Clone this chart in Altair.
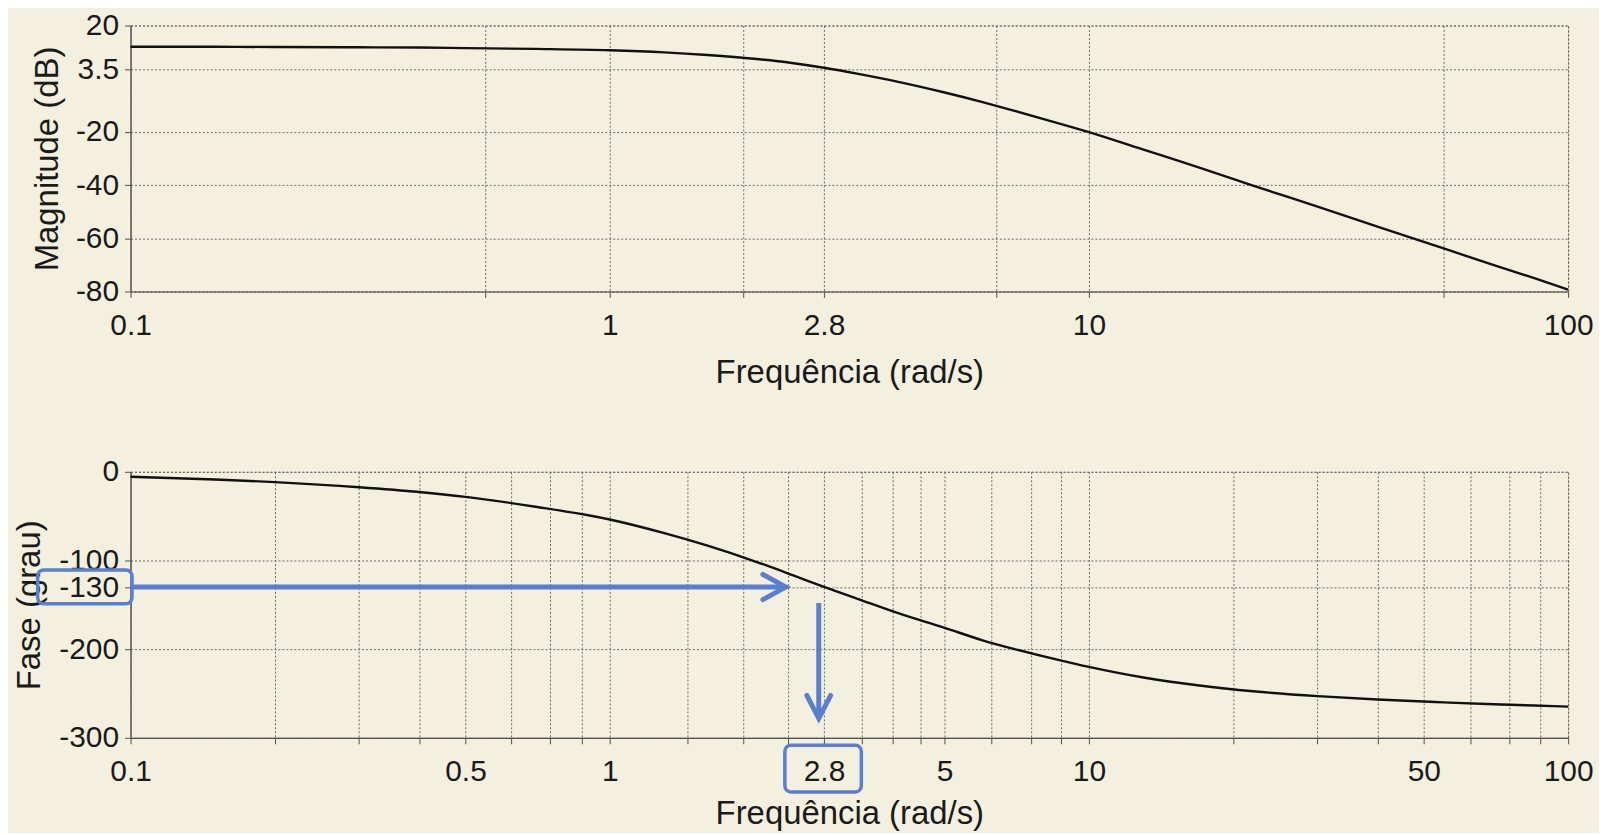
import altair as alt
import pandas as pd

# ---- data ----
freq = [0.1, 0.15, 0.2, 0.3, 0.4, 0.5, 0.7, 1, 1.3, 1.6, 2, 2.4, 2.8, 3.3, 4, 5, 6, 7,
        8.5, 10, 13, 17, 22, 30, 40, 55, 70, 85, 100]
mag_db = [12.0, 12.0, 11.9, 11.8, 11.7, 11.5, 11.2, 10.7, 9.9, 8.9, 7.5, 5.9, 4.1, 1.8,
          -1.2, -5.2, -8.8, -12.1, -16.4, -20.1, -26.7, -33.4, -40.2, -48.1, -55.6,
          -63.8, -70.1, -75.0, -79.3]
phase_deg = [-5.6, -8.6, -11.6, -17.4, -22.8, -28.3, -39.4, -53.8, -69.2, -83.3, -100.6,
             -116.2, -129.8, -143.5, -159.5, -176.0, -190.0, -200.0, -211.2, -220.0,
             -232.0, -241.0, -247.5, -253.0, -256.8, -260.0, -262.2, -263.6, -264.8]

mag_grid_x = [0.1, 0.55, 1, 1.9, 2.8, 6.4, 10, 55, 100]
mag_label_x = [0.1, 1, 2.8, 10, 100]
mag_y_ticks = [20, 3.5, -20, -40, -60, -80]

phase_grid_x = [0.1, 0.2, 0.3, 0.4, 0.5, 0.624, 0.751, 0.874, 1, 1.45, 1.9, 2.36, 2.8,
                3.36, 3.9, 4.45, 5, 6.27, 7.56, 8.74, 10, 20, 30, 40, 50, 62.7, 75.3,
                87.4, 100]
phase_label_x = [0.1, 0.5, 1, 2.8, 5, 10, 50, 100]
phase_y_ticks = [0, -100, -130, -200, -300]

# annotation (blue) values
level_130 = [-130]
h_arrow_from = [0.1]
h_arrow_to = [2.33]
v_arrow_freq = [2.73]
v_arrow_from = [-148]
v_arrow_to = [-278]
box_phase_x = [0.064, 0.1007]
box_phase_y = [-110.7, -148.9]
box_freq_x = [2.32, 3.35]
box_freq_y = [-308.5, -361.0]

BG = "#F3F0E0"
BLUE = "#5B7FD0"
FONT = "Liberation Sans"
W, H = 1443, 267

curve = pd.DataFrame({"f": freq, "mag": mag_db, "phase": phase_deg})


def x_axis(values, labels, title_y):
    labs = ",".join(str(v) for v in labels)
    return alt.Axis(values=values, title="Frequência (rad/s)",
                    labelExpr=f"indexof([{labs}], datum.value) >= 0 ? '' + datum.value : ''",
                    titleY=title_y, titleBaseline="alphabetic")


x_scale = alt.Scale(type="log", domain=[0.1, 100], nice=False)

# ---- magnitude ----
mag_x_axis = x_axis(mag_grid_x, mag_label_x, 91.5)
mag_y_axis = alt.Axis(values=mag_y_ticks, title="Magnitude (dB)",
                      labelExpr="'' + datum.value", titleX=-73.5, titleY=H / 2,
                      titleBaseline="alphabetic")
top = alt.Chart(curve).mark_line(color="#111111", strokeWidth=2.4,
                                 interpolate="monotone").encode(
    x=alt.X("f:Q", scale=x_scale, axis=mag_x_axis),
    y=alt.Y("mag:Q", scale=alt.Scale(domain=[-80, 20], nice=False, zero=False),
            axis=mag_y_axis),
).properties(width=W, height=H)

# ---- phase ----
ph_x_axis = x_axis(phase_grid_x, phase_label_x, 86)
ph_y_axis = alt.Axis(values=phase_y_ticks, title="Fase (grau)",
                     labelExpr="'' + datum.value", titleX=-91.5, titleY=H / 2,
                     titleBaseline="alphabetic")
ph_y_scale = alt.Scale(domain=[-300, 0], nice=False, zero=False)


def X(field):
    return alt.X(field, type="quantitative", scale=x_scale, axis=ph_x_axis)


def Y(field):
    return alt.Y(field, type="quantitative", scale=ph_y_scale, axis=ph_y_axis)


phase_line = alt.Chart(curve).mark_line(color="#111111", strokeWidth=2.4,
                                        interpolate="monotone").encode(
    x=X("f"), y=Y("phase"))

h_df = pd.DataFrame({"f0": h_arrow_from, "f1": h_arrow_to, "lv": level_130})
h_rule = alt.Chart(h_df).mark_rule(color=BLUE, strokeWidth=5).encode(
    x=X("f0"), x2="f1", y=Y("lv"))
h_head = alt.Chart(h_df).mark_point(
    shape="M-1,-0.55L0,0L-1,0.55", size=2116, color=BLUE, strokeWidth=5,
    opacity=1, strokeCap="round", strokeJoin="miter").encode(x=X("f1"), y=Y("lv"))

v_df = pd.DataFrame({"f": v_arrow_freq, "p0": v_arrow_from, "p1": v_arrow_to})
v_rule = alt.Chart(v_df).mark_rule(color=BLUE, strokeWidth=5).encode(
    x=X("f"), y=Y("p0"), y2="p1")
v_head = alt.Chart(v_df).mark_point(
    shape="M-0.52,-1L0,0L0.52,-1", size=2116, color=BLUE, strokeWidth=5,
    opacity=1, strokeCap="round", strokeJoin="miter").encode(x=X("f"), y=Y("p1"))

boxes = pd.DataFrame({
    "x0": [box_phase_x[0], box_freq_x[0]], "x1": [box_phase_x[1], box_freq_x[1]],
    "y0": [box_phase_y[0], box_freq_y[0]], "y1": [box_phase_y[1], box_freq_y[1]],
})
box_layer = alt.Chart(boxes).mark_rect(
    fillOpacity=0, stroke=BLUE, strokeWidth=3.5, cornerRadius=6).encode(
    x=X("x0"), x2="x1", y=Y("y0"), y2="y1")

bottom = alt.layer(phase_line, h_rule, h_head, v_rule, v_head, box_layer).properties(
    width=W, height=H)

chart = alt.vconcat(top, bottom, spacing=66).configure(
    background=BG,
    padding={"left": 4, "top": 0, "right": 5, "bottom": 0},
).configure_view(
    stroke="#6a6a6a", strokeDash=[2, 2], strokeWidth=1,
).configure_axis(
    labelFont=FONT, labelFontSize=30, labelColor="#1a1a1a",
    titleFont=FONT, titleFontSize=33, titleFontWeight="normal", titleColor="#1a1a1a",
    domainColor="#505050", domainWidth=1.2, tickColor="#505050", tickSize=6,
    gridColor="#6a6a6a", gridDash=[2, 2], gridWidth=1,
    labelPadding=13, labelFlush=False, labelOverlap=False,
).configure_axisY(labelPadding=6)

chart.save("out.html", embed_options={"renderer": "svg", "actions": False})
